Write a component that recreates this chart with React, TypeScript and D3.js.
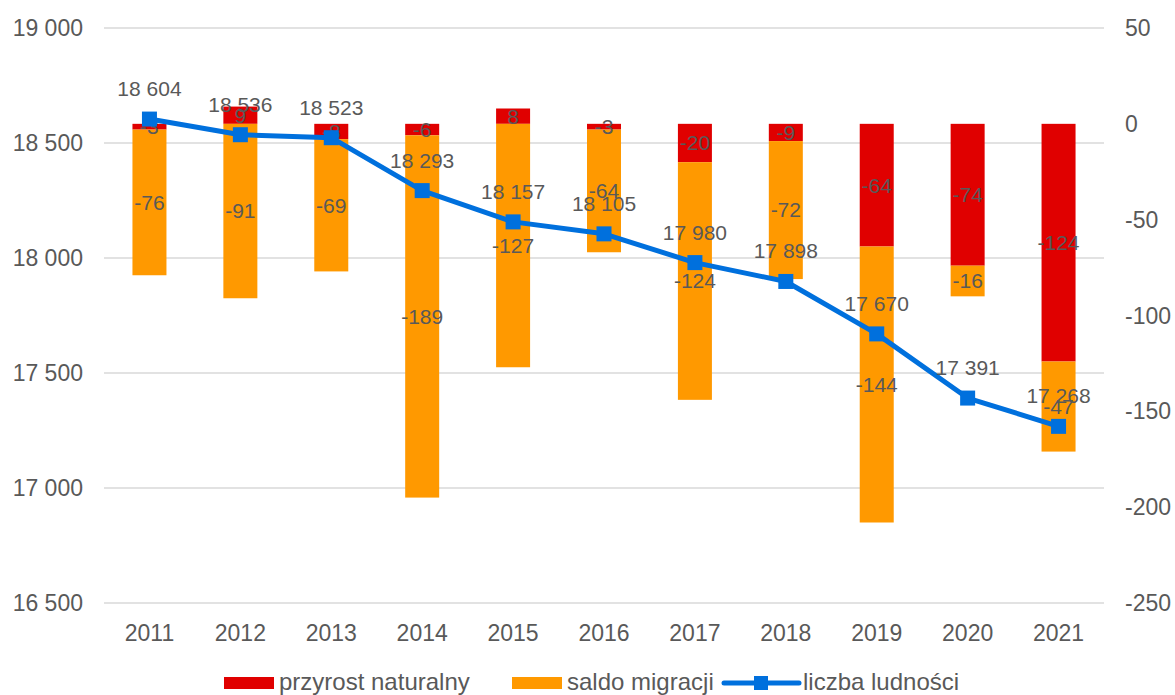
import React from 'react'
import * as d3 from 'd3'

const years = ['2011', '2012', '2013', '2014', '2015', '2016', '2017', '2018', '2019', '2020', '2021']
const przyrost = [-3, 9, -8, -6, 8, -3, -20, -9, -64, -74, -124]
const saldo = [-76, -91, -69, -189, -127, -64, -124, -72, -144, -16, -47]
const ludnosc = [18604, 18536, 18523, 18293, 18157, 18105, 17980, 17898, 17670, 17391, 17268]
const leftTicks = [16500, 17000, 17500, 18000, 18500, 19000]
const rightTicks = [-250, -200, -150, -100, -50, 0, 50]

const W = 1175
const H = 695
const TXT = '#595959'
const RED = '#E00000'
const ORANGE = '#FF9900'
const BLUE = '#0070DD'
const FONT = '"Liberation Sans", Arial, sans-serif'

const fmt = d3.formatLocale({ decimal: ',', thousands: '\u00a0', grouping: [3], currency: ['', ''] }).format(',d')

function T({ x, y, children, anchor = 'middle', size = 21, dy = '0' }: any) {
  return (
    <text x={x} y={y} textAnchor={anchor} dy={dy} fontSize={size} fill={TXT} fontFamily={FONT}>{children}</text>
  )
}

export default function App() {
  const x = d3.scaleBand().domain(years).range([104, 1104]).paddingInner(0).paddingOuter(0)
  const yL = d3.scaleLinear().domain([16500, 19000]).range([603, 28])
  const yR = d3.scaleLinear().domain([-250, 50]).range([603, 28])
  const bw = 34
  const cx = (yr: string) => x(yr)! + x.bandwidth() / 2

  // stack: positives go up from 0, negatives go down from 0
  const segs: any[] = []
  years.forEach((yr, i) => {
    let pos = 0
    let neg = 0
    ;[[przyrost[i], RED], [saldo[i], ORANGE]].forEach(([v, c]: any) => {
      let y0, y1
      if (v >= 0) { y0 = pos; y1 = pos + v; pos = y1 } else { y0 = neg; y1 = neg + v; neg = y1 }
      segs.push({ yr, v, c, y0, y1 })
    })
  })

  const line = d3.line<number>().x((_, i) => cx(years[i])).y(d => yL(d))

  return (
    <div style={{ position: 'fixed', left: 0, top: 0 }}>
      <svg width={W} height={H} style={{ display: 'block', background: '#fff' }}>
        {leftTicks.map(t => (
          <line key={t} x1={104} x2={1104} y1={yL(t)} y2={yL(t)} stroke="#D9D9D9" strokeWidth={1.5} />
        ))}
        {leftTicks.map(t => (
          <T key={t} x={83} y={yL(t)} anchor="end" dy="0.35em" size={23}>{fmt(t)}</T>
        ))}
        {rightTicks.map(t => (
          <T key={t} x={1125} y={yR(t)} anchor="start" dy="0.35em" size={23}>{t}</T>
        ))}
        {years.map(yr => (
          <T key={yr} x={cx(yr)} y={641} size={23}>{yr}</T>
        ))}
        {segs.map((s, i) => (
          <rect key={i} x={cx(s.yr) - bw / 2} width={bw}
            y={yR(Math.max(s.y0, s.y1))} height={Math.abs(yR(s.y0) - yR(s.y1))} fill={s.c} />
        ))}
        {segs.map((s, i) => (
          <T key={i} x={cx(s.yr)} y={yR((s.y0 + s.y1) / 2)} dy="0.35em">{s.v}</T>
        ))}
        <path d={line(ludnosc)!} fill="none" stroke={BLUE} strokeWidth={5} strokeLinejoin="round" />
        {ludnosc.map((v, i) => (
          <rect key={i} x={cx(years[i]) - 7.5} y={yL(v) - 7.5} width={15} height={15} fill={BLUE} />
        ))}
        {ludnosc.map((v, i) => (
          <T key={i} x={cx(years[i])} y={yL(v) - 23}>{fmt(v)}</T>
        ))}
        <g>
          <rect x={224} y={677} width={50} height={12} fill={RED} />
          <T x={279} y={690} anchor="start" size={24}>przyrost naturalny</T>
          <rect x={512} y={677} width={50} height={12} fill={ORANGE} />
          <T x={567} y={690} anchor="start" size={24}>saldo migracji</T>
          <line x1={724} x2={799} y1={683} y2={683} stroke={BLUE} strokeWidth={5} strokeLinecap="round" />
          <rect x={754} y={676} width={14} height={14} fill={BLUE} />
          <T x={803} y={690} anchor="start" size={24}>liczba ludności</T>
        </g>
      </svg>
    </div>
  )
}
